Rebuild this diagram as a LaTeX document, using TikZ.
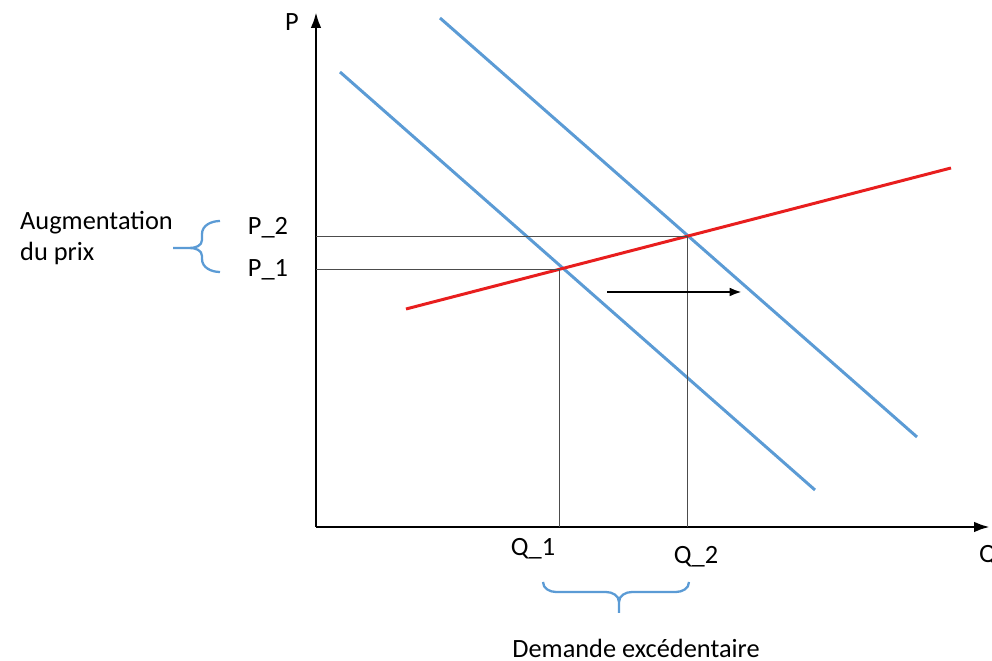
\documentclass[tikz,border=0pt]{standalone}
\usepackage{fontspec}
\setmainfont{Carlito}
\usetikzlibrary{arrows.meta}
\definecolor{demblue}{RGB}{91,155,213}
\definecolor{supred}{RGB}{232,30,30}
\begin{document}
\begin{tikzpicture}[x=0.02cm,y=-0.02cm,
    every node/.style={font=\fontsize{15}{18}\selectfont},
    axis/.style={line width=1.6pt,-{Latex[length=9pt,width=6pt]}},
    demand/.style={demblue,line width=1.7pt},
    supply/.style={supred,line width=1.7pt},
    guide/.style={black!70,line width=0.45pt},
    bracket/.style={demblue,line width=1.3pt}]
    \useasboundingbox (0,0) rectangle (992,661);
    % axes
    \coordinate (O) at (316,527);
    \coordinate (Ptop) at (316,12);
    \coordinate (Qend) at (990,527);
    \draw[axis] (O) -- (Ptop);
    \draw[axis] (O) -- (Qend);
    \node (plab) at (292,22) {P};
    \node (qlab) at (988,556) {Q};
    % demand curves, before and after the shift
    \coordinate (d1a) at (340,72);
    \coordinate (d1b) at (815,490);
    \coordinate (d2a) at (440,18);
    \coordinate (d2b) at (917,437);
    \draw[demand] (d1a) -- (d1b);
    \draw[demand] (d2a) -- (d2b);
    % supply curve
    \coordinate (sa) at (406,309);
    \coordinate (sb) at (951,168);
    \draw[supply] (sa) -- (sb);
    % equilibria and guide lines
    \coordinate (E1) at (559,269);
    \coordinate (E2) at (687,236);
    \coordinate (yP1) at (316,269);
    \coordinate (yP2) at (316,236);
    \coordinate (xQ1) at (559,527);
    \coordinate (xQ2) at (687,527);
    \draw[guide] (yP1) -- (E1) -- (xQ1);
    \draw[guide] (yP2) -- (E2) -- (xQ2);
    % shift arrow
    \coordinate (sh1) at (607,292);
    \coordinate (sh2) at (742,292);
    \draw[line width=1.3pt,-{Latex[length=7pt,width=5pt]}] (sh1) -- (sh2);
    % price labels
    \node (p2) at (268,228) {P\_2};
    \node (p1) at (268,270) {P\_1};
    \draw[bracket] (220,221) to[out=180,in=90] (202,234) -- (202,240)
        to[out=270,in=0] (190,248) -- (173,248);
    \draw[bracket] (220,272) to[out=180,in=270] (202,259) -- (202,256)
        to[out=90,in=0] (190,248);
    \node[align=left,anchor=west] (aug) at (14,238) {Augmentation\\du prix};
    % quantity labels
    \node (q1) at (533,549) {Q\_1};
    \node (q2) at (696,557) {Q\_2};
    \draw[bracket] (543,582) to[out=270,in=180] (556,592) -- (606,592)
        to[out=0,in=90] (619,602) -- (619,613);
    \draw[bracket] (689,582) to[out=270,in=0] (676,592) -- (632,592)
        to[out=180,in=90] (619,602);
    \node (exc) at (636,648) {Demande excédentaire};
\end{tikzpicture}
\end{document}
